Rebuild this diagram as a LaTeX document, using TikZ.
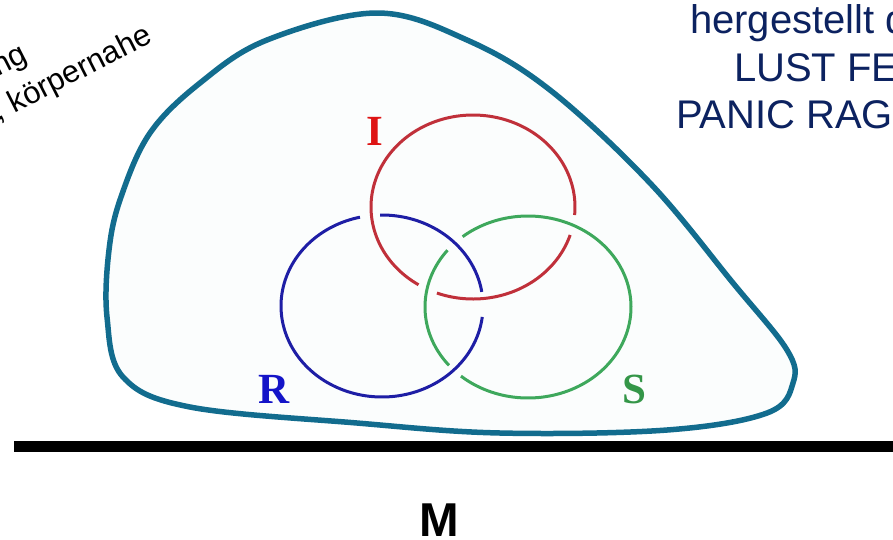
\documentclass[tikz,border=0pt]{standalone}
\usepackage{fontspec}
\setmainfont{Liberation Sans}
\newfontfamily\serifb{Liberation Serif}
\definecolor{blobline}{RGB}{18,108,142}
\definecolor{blobfill}{RGB}{251,253,253}
\definecolor{navytext}{RGB}{12,34,96}
\definecolor{ringred}{RGB}{192,48,58}
\definecolor{ringblue}{RGB}{30,30,165}
\definecolor{ringgreen}{RGB}{62,168,92}
\definecolor{letI}{RGB}{222,20,20}
\definecolor{letR}{RGB}{20,20,200}
\definecolor{letS}{RGB}{52,150,72}
\tikzset{
  ring/.style={line width=3pt},
  txt/.style={inner sep=0pt, outer sep=0pt},
  ringlabel/.style={txt, font=\serifb\bfseries\fontsize{43}{43}\selectfont, anchor=base},
}
\begin{document}
\begin{tikzpicture}[x=1pt,y=-1pt]
\useasboundingbox (0,0) rectangle (893,539);
\clip (0,0) rectangle (893,539);
% blob
\draw[blobline, fill=blobfill, line width=5.5pt] plot[smooth cycle, tension=0.6] coordinates {
 (107,317) (109,250) (121,197) (150,133) (200,83) (267,40) (377,13) (467,40)
 (550,90) (650,183) (733,283) (787,350) (793,383) (767,413) (667,430) (500,433)
 (357,423) (190,407) (123,377)};
% rings
\draw[ring, ringred] plot[domain=17.7:110.7, samples=50] ({473+102*cos(\x)},{207+92*sin(\x)});
\draw[ring, ringred] plot[domain=122.3:365, samples=120] ({473+102*cos(\x)},{207+92*sin(\x)});
\draw[ring, ringblue] plot[domain=6.9:257.4, samples=120] ({382+101*cos(\x)},{306+91*sin(\x)});
\draw[ring, ringblue] plot[domain=268.9:351.1, samples=50] ({382+101*cos(\x)},{306+91*sin(\x)});
\draw[ring, ringgreen] plot[domain=-129.4:130.6, samples=120] ({528+103*cos(\x)},{307+91*sin(\x)});
\draw[ring, ringgreen] plot[domain=140.1:218.6, samples=50] ({528+103*cos(\x)},{307+91*sin(\x)});
% ring labels
\node[ringlabel, letI] (lI) at (374.5,145) {I};
\node[ringlabel, letR] (lR) at (274.5,403) {R};
\node[ringlabel, letS] (lS) at (634.5,403) {S};
% ground line
\coordinate (gl) at (14,446.6);
\coordinate (gr) at (893,446.6);
\draw[black, line width=11.7pt] (gl) -- (gr);
\node[txt, anchor=base, font=\bfseries\fontsize{47.5}{47.5}\selectfont] (M) at (439.5,536.7) {M};
% top right text
\begin{scope}[every node/.style={txt, anchor=base west, text=navytext, font=\fontsize{40}{48}\selectfont}]
\node (t1) at (690,33) {hergestellt d};
\node (t2) at (734,81) {LUST FE};
\node (t3) at (676,128) {PANIC RAG};
\end{scope}
% top left rotated text
\node[txt, anchor=base east, rotate=27, font=\fontsize{31}{31}\selectfont] (r1) at (29,61) {ng};
\node[txt, anchor=base east, rotate=27, font=\fontsize{31}{31}\selectfont] (r2) at (154,42) {, körpernahe};
\end{tikzpicture}
\end{document}
